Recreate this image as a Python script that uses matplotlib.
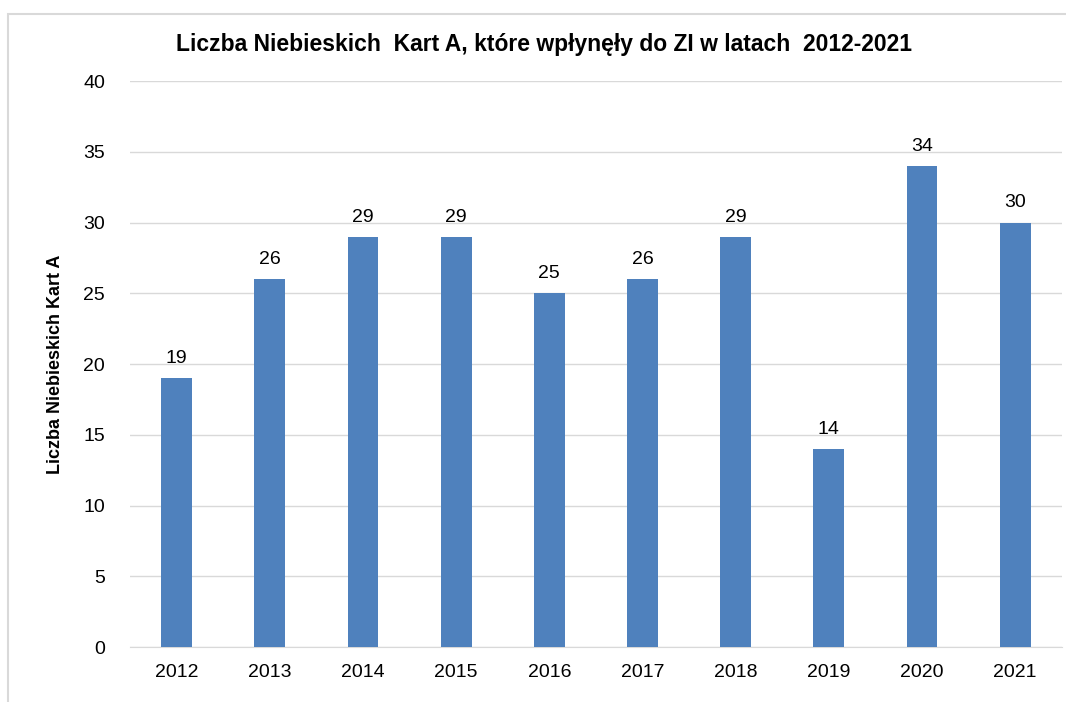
import matplotlib.pyplot as plt
from matplotlib.patches import Rectangle

years = ['2012', '2013', '2014', '2015', '2016', '2017', '2018', '2019', '2020', '2021']
cards = [19, 26, 29, 29, 25, 26, 29, 14, 34, 30]

plt.rcParams['font.family'] = ['Liberation Sans', 'DejaVu Sans']

fig = plt.figure(figsize=(10.66, 7.02), dpi=100)
# light frame around the chart
fig.patches.append(Rectangle((8 / 1066, -0.01), 1.02, 1 - 14 / 702 + 0.01, transform=fig.transFigure,
                             fill=False, edgecolor='#d9d9d9', linewidth=1.5))

ax = fig.add_axes([0.122, 0.0783, 0.874, 0.8063])
x = range(len(years))
bars = ax.bar(x, cards, width=0.33, color='#4f81bd', zorder=3)
for i, v in enumerate(cards):
    ax.annotate(str(v), (i, v), xytext=(0, 8), textcoords='offset points',
                ha='center', va='bottom', fontsize=14)

ax.set_xlim(-0.5, len(years) - 0.5)
ax.set_ylim(0, 40)
ax.set_yticks(range(0, 41, 5))
ax.set_xticks(list(x))
ax.set_xticklabels(years)
ax.tick_params(axis='both', length=0, labelsize=14, pad=12)
ax.tick_params(axis='y', pad=18)
ax.grid(axis='y', color='#d9d9d9', linewidth=1, zorder=0)
for s in ['top', 'right', 'left']:
    ax.spines[s].set_visible(False)
ax.spines['bottom'].set_color('#d9d9d9')

ax.set_ylabel('Liczba Niebieskich Kart A', fontsize=13, fontweight='bold', labelpad=14)
fig.text(0.51, 0.936, 'Liczba Niebieskich  Kart A, które wpłynęły do ZI w latach  2012-2021',
         ha='center', va='center', fontsize=16.5, fontweight='bold')

fig.savefig('out.png', dpi=100)
